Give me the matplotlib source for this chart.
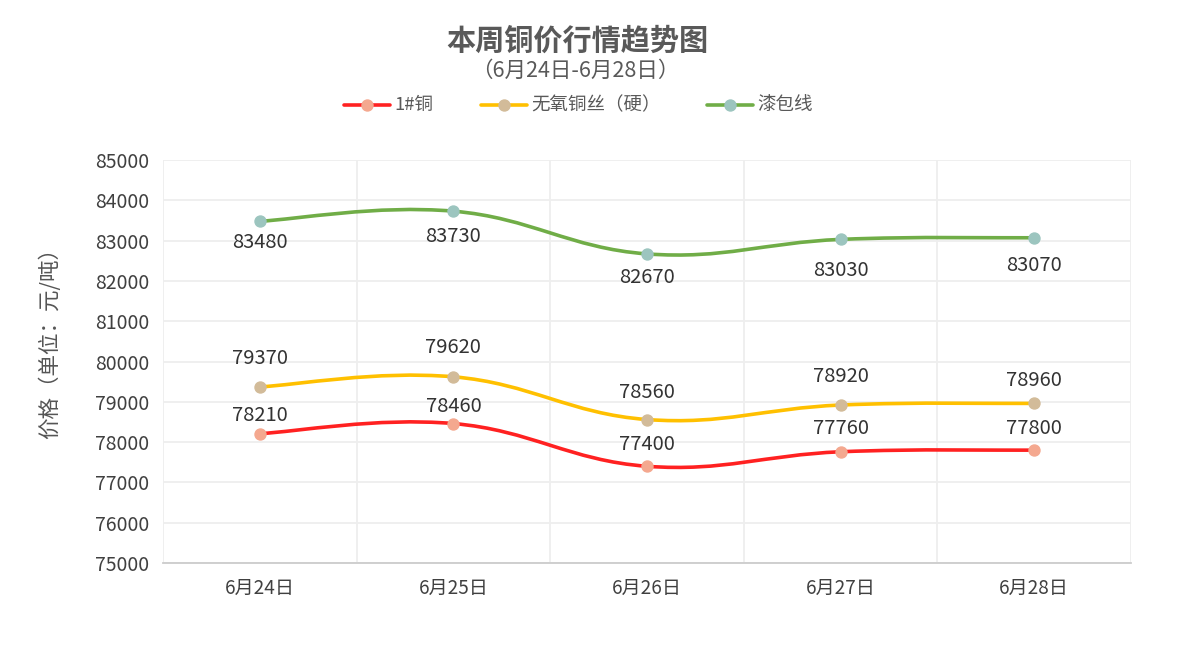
import numpy as np
import matplotlib
matplotlib.use('Agg')
from matplotlib import pyplot as plt
from matplotlib.path import Path
from matplotlib.patches import PathPatch
from matplotlib.lines import Line2D

plt.rcParams['font.family'] = ['Noto Sans CJK SC', 'DejaVu Sans']

dates = ['6月24日', '6月25日', '6月26日', '6月27日', '6月28日']
copper = [78210, 78460, 77400, 77760, 77800]
oxygen_free = [79370, 79620, 78560, 78920, 78960]
enameled = [83480, 83730, 82670, 83030, 83070]
names = ['1#铜', '无氧铜丝（硬）', '漆包线']
yticks = list(range(75000, 85001, 1000))

line_colors = ['#FF2121', '#FFC000', '#70AD47']
marker_colors = ['#F4A88F', '#D2BB99', '#9CC5BF']
# label offsets in pixels (positive = above)
label_offsets = [[18, 17, 22, 23, 22],
                 [28, 29, 27, 29, 23],
                 [-21, -25, -24, -31, -28]]

W, H, DPI = 1180, 646, 100
fig = plt.figure(figsize=(W / DPI, H / DPI), dpi=DPI)
px = 72.0 / DPI  # points per pixel


def smooth_path(xs, ys, s=0.4):
    # bezier spline similar to echarts smooth line
    n = len(xs)
    pts = np.column_stack([xs, ys]).astype(float)
    verts = [pts[0]]
    codes = [Path.MOVETO]
    for i in range(n - 1):
        p0 = pts[i]
        p1 = pts[i + 1]
        prev = pts[i - 1] if i > 0 else p0
        nxt = pts[i + 2] if i + 2 < n else p1
        c1 = p0 + (p1 - prev) * s * 0.5
        c2 = p1 - (nxt - p0) * s * 0.5
        verts += [c1, c2, p1]
        codes += [Path.CURVE4] * 3
    return Path(verts, codes)


ax = fig.add_axes([163 / W, 1 - 563 / H, (1131 - 163) / W, (563 - 160) / H])
x = np.arange(len(dates))
series = [copper, oxygen_free, enameled]

for k, ys in enumerate(series):
    patch = PathPatch(smooth_path(x, ys), facecolor='none',
                      edgecolor=line_colors[k], lw=3.6 * px, zorder=3,
                      capstyle='round', joinstyle='round')
    ax.add_patch(patch)
    ax.plot(x, ys, ls='none', marker='o', ms=11 * px,
            mfc=marker_colors[k], mec=marker_colors[k], zorder=4)
    for i, v in enumerate(ys):
        ax.annotate(str(v), (i, v), xytext=(0, label_offsets[k][i] * px),
                    textcoords='offset points', ha='center', va='center',
                    fontsize=14.5, color='#333333', zorder=5)

ax.set_xlim(-0.5, len(dates) - 0.5)
ax.set_ylim(75000, 85000)
ax.set_yticks(yticks)
ax.set_yticklabels([str(t) for t in yticks], fontsize=14, color='#404040')
ax.set_xticks(x)
ax.set_xticklabels(dates, fontsize=13.7, color='#404040')
ax.set_xticks(np.arange(-0.5, len(dates)), minor=True)
ax.tick_params(axis='both', which='both', length=0)
ax.tick_params(axis='y', pad=10)
ax.tick_params(axis='x', pad=11)
ax.grid(axis='y', color='#EEEEEE', lw=1.3)
ax.grid(axis='x', which='minor', color='#EEEEEE', lw=1.3)
ax.set_axisbelow(True)
for sp in ['top', 'left', 'right']:
    ax.spines[sp].set_visible(False)
ax.spines['bottom'].set_color('#CCCCCC')
ax.spines['bottom'].set_linewidth(1.3)

fig.text(50 / W, 1 - 338 / H, '价格（单位：元/吨）', rotation=90,
         ha='center', va='center', fontsize=15.5, color='#555555')

fig.text(577 / W, 1 - 41 / H, '本周铜价行情趋势图', ha='center', va='center',
         fontsize=21, fontweight='bold', color='#595959')
fig.text(575 / W, 1 - 71 / H, '（6月24日-6月28日）', ha='center', va='center',
         fontsize=15.5, color='#595959')

leg_x = [344, 481, 707]
ly = 1 - 105 / H
for k, name in enumerate(names):
    x0 = leg_x[k]
    fig.add_artist(Line2D([x0 / W, (x0 + 46) / W], [ly, ly], lw=3.6 * px,
                          color=line_colors[k], solid_capstyle='round'))
    fig.add_artist(Line2D([(x0 + 23) / W], [ly], ls='none', marker='o',
                          ms=11 * px, mfc=marker_colors[k],
                          mec=marker_colors[k]))
    fig.text((x0 + 50) / W, ly, name, ha='left', va='center',
             fontsize=13.3, color='#595959')

fig.savefig('out.png', dpi=DPI)
